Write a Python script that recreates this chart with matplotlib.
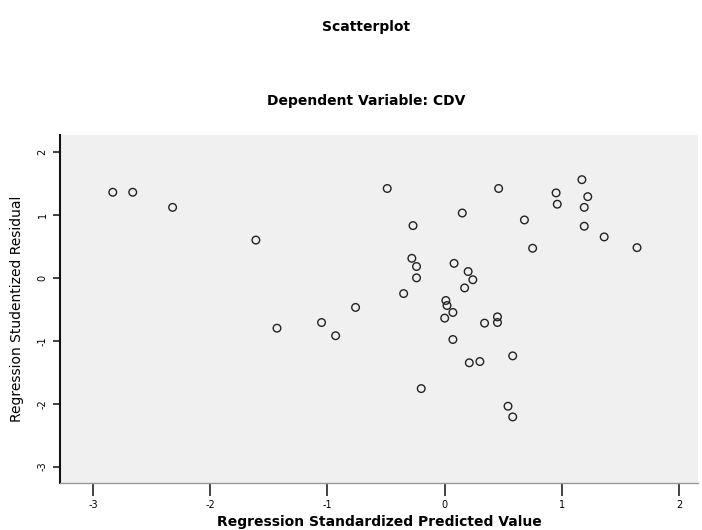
import matplotlib
matplotlib.use('Agg')
import matplotlib.pyplot as plt

# standardized predicted values (x) and studentized residuals (y)
pred = [-2.83, -2.66, -2.32, -1.61, -1.43, -1.05, -0.93, -0.76, -0.49, -0.35,
        -0.27, -0.28, -0.24, -0.24, -0.20, 0.01, 0.02, 0.07, 0.00, 0.07,
        0.08, 0.15, 0.17, 0.20, 0.24, 0.21, 0.30, 0.34, 0.45, 0.45,
        0.46, 0.58, 0.54, 0.58, 0.68, 0.75, 0.95, 0.96, 1.17, 1.22,
        1.19, 1.19, 1.36, 1.64]
resid = [1.36, 1.36, 1.12, 0.60, -0.80, -0.71, -0.92, -0.47, 1.42, -0.25,
         0.83, 0.31, 0.18, 0.00, -1.76, -0.36, -0.44, -0.55, -0.64, -0.98,
         0.23, 1.03, -0.16, 0.10, -0.03, -1.35, -1.33, -0.72, -0.62, -0.71,
         1.42, -1.24, -2.04, -2.21, 0.92, 0.47, 1.35, 1.17, 1.56, 1.29,
         1.12, 0.82, 0.65, 0.48]

xticks = [-3, -2, -1, 0, 1, 2]
yticks = [2, 1, 0, -1, -2, -3]

fig = plt.figure(figsize=(7.02, 5.30), dpi=100)
ax = fig.add_axes([0.0855, 0.0887, 0.9088, 0.6566])
ax.set_facecolor('#f0f0f0')

ax.scatter(pred, resid, s=30, facecolors='none', edgecolors='#222222',
           linewidths=1.0, zorder=3)

ax.set_xlim(-3.28, 2.16)
ax.set_ylim(-3.26, 2.27)
ax.set_xticks(xticks)
ax.set_xticklabels([str(v) for v in xticks])
ax.set_yticks(yticks)
ax.set_yticklabels([str(v) for v in yticks], rotation=90, va='center')

ax.tick_params(axis='x', length=9, width=1.2, labelsize=7, color='#222222', pad=3)
ax.tick_params(axis='y', length=5, width=1.2, labelsize=7, color='#222222', pad=4)

for side in ['top', 'right']:
    ax.spines[side].set_visible(False)
ax.spines['left'].set_color('#111111')
ax.spines['left'].set_linewidth(1.5)
ax.spines['bottom'].set_color('#999999')
ax.spines['bottom'].set_linewidth(1.0)

ax.set_xlabel('Regression Standardized Predicted Value', fontsize=10,
              fontweight='bold', labelpad=4)
ax.set_ylabel('Regression Studentized Residual', fontsize=10, labelpad=10)

fig.text(0.521, 0.949, 'Scatterplot', ha='center', va='center',
         fontsize=10, fontweight='bold')
fig.text(0.521, 0.809, 'Dependent Variable: CDV', ha='center', va='center',
         fontsize=10, fontweight='bold')

plt.savefig('out.png', dpi=100)
